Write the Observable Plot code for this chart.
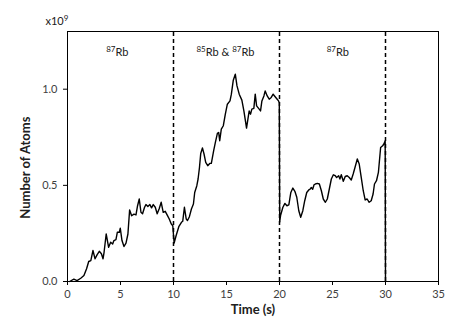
<!DOCTYPE html>
<html><head><meta charset="utf-8">
<script src="https://cdn.jsdelivr.net/npm/d3@7"></script>
<script src="https://cdn.jsdelivr.net/npm/@observablehq/plot@0.6"></script>
<style>body{margin:0;background:#fff}</style>
</head><body><div id="chart"></div>
<script>
const times = [0.2,0.6,0.9,1.25,1.55,1.8,2.0,2.2,2.4,2.6,2.8,3.0,3.2,3.35,3.45,3.65,3.88,4.07,4.26,4.38,4.57,4.7,4.89,4.98,5.14,5.33,5.52,5.7,5.86,6.05,6.27,6.46,6.61,6.77,6.93,7.08,7.27,7.4,7.58,7.77,7.93,8.09,8.28,8.46,8.65,8.84,9.03,9.22,9.41,9.6,9.78,9.93,10.06,10.25,10.5,10.75,10.87,11.03,11.2,11.32,11.5,11.69,11.88,12.0,12.2,12.32,12.45,12.57,12.73,12.88,13.04,13.23,13.42,13.57,13.79,13.95,14.14,14.26,14.36,14.51,14.7,14.89,15.08,15.33,15.46,15.64,15.83,15.99,16.2,16.45,16.64,16.76,16.89,17.02,17.14,17.27,17.39,17.58,17.71,17.84,18.03,18.21,18.34,18.53,18.65,18.84,19.03,19.22,19.4,19.59,19.78,19.91,19.98,20.02,20.1,20.32,20.51,20.7,20.88,21.07,21.26,21.45,21.63,21.82,22.0,22.2,22.38,22.57,22.76,22.89,23.0,23.13,23.26,23.38,23.57,23.76,23.95,24.13,24.33,24.51,24.7,24.89,25.08,25.26,25.39,25.58,25.7,25.83,26.02,26.2,26.39,26.58,26.77,26.95,27.14,27.34,27.52,27.71,27.9,28.08,28.27,28.46,28.65,28.83,28.96,29.15,29.33,29.54,29.73,29.85,29.97,30.0];
const atoms = [0.0,0.012,0.005,0.017,0.031,0.066,0.104,0.109,0.161,0.118,0.14,0.157,0.144,0.118,0.152,0.247,0.178,0.204,0.195,0.213,0.218,0.256,0.256,0.277,0.213,0.182,0.199,0.247,0.372,0.342,0.35,0.346,0.394,0.429,0.36,0.352,0.386,0.4,0.39,0.4,0.383,0.4,0.386,0.352,0.378,0.412,0.36,0.365,0.345,0.325,0.3,0.29,0.2,0.239,0.285,0.308,0.313,0.386,0.325,0.317,0.337,0.377,0.403,0.463,0.498,0.533,0.593,0.666,0.694,0.663,0.619,0.602,0.614,0.614,0.68,0.723,0.77,0.775,0.732,0.792,0.81,0.87,0.922,0.939,0.974,1.047,1.078,1.017,0.974,0.943,0.887,0.844,0.798,0.844,0.887,0.87,0.896,0.9,0.974,0.913,0.9,0.887,0.939,0.965,0.991,0.965,0.948,0.957,0.974,0.961,0.948,0.939,0.93,0.31,0.343,0.386,0.406,0.394,0.398,0.463,0.486,0.469,0.438,0.368,0.334,0.368,0.42,0.463,0.476,0.48,0.489,0.48,0.503,0.507,0.51,0.507,0.472,0.429,0.412,0.429,0.481,0.533,0.555,0.55,0.541,0.55,0.533,0.555,0.521,0.546,0.55,0.541,0.528,0.559,0.597,0.637,0.611,0.541,0.472,0.424,0.429,0.412,0.42,0.455,0.507,0.524,0.567,0.697,0.706,0.715,0.732,0.0];
const xTicks = [0, 5, 10, 15, 20, 25, 30, 35];
const yTicks = [0, 0.5, 1.0];
const switchTimes = [10, 20, 30];
const regionTimes = [4.7, 14.9, 25.5];
const regionLabels = ["87Rb", "85Rb & 87Rb", "87Rb"];
const scaleLabel = "x10^9";
const xLabel = "Time (s)";
const yLabel = "Number of Atoms";

const data = times.map((t, i) => ({t, v: atoms[i]}));
const regions = regionTimes.map((t, i) => ({t, label: regionLabels[i]}));

const chart = Plot.plot({
  width: 452, height: 330,
  marginLeft: 67, marginRight: 14, marginTop: 31, marginBottom: 49,
  style: {fontFamily: "Lato, 'Open Sans', sans-serif", fontSize: "11px", background: "white", color: "#404040"},
  x: {domain: [0, 35]},
  y: {domain: [0, 1.3]},
  marks: [
    Plot.ruleX(switchTimes, {y1: 0, y2: 1.3, stroke: "black", strokeWidth: 1.5, strokeDasharray: "4,3"}),
    Plot.line(data, {x: "t", y: "v", stroke: "black", strokeWidth: 1.4}),
    Plot.frame({stroke: "black", strokeWidth: 1}),
    Plot.axisX({ticks: xTicks, tickSize: 4, tickPadding: 5, stroke: "black", fill: "#404040", label: null, tickFormat: d3.format("d")}),
    Plot.axisY({ticks: yTicks, tickSize: 4, tickPadding: 6, stroke: "black", fill: "#404040", label: null, tickFormat: d3.format(".1f")}),
    Plot.text(regions, {x: "t", y: 1.19, text: "label", fill: "#202020", fontSize: 11}),
    Plot.text([xLabel], {frameAnchor: "bottom", dy: 32, fontWeight: "bold", fontSize: 13, fill: "#202020"}),
    Plot.text([yLabel], {x: -3.92, y: 0.592, rotate: -90, fontWeight: "bold", fontSize: 13, fill: "#202020"}),
    Plot.text([scaleLabel], {frameAnchor: "top-left", dx: -22, dy: -14, textAnchor: "start", fontSize: 11, fill: "#202020"})
  ]
});
document.getElementById("chart").append(chart);

// superscripts
d3.select(chart).selectAll("text").each(function() {
  const s = this.textContent;
  const parts = s.split(/(\^\d+|\d+(?=Rb))/).filter(p => p !== "");
  if (parts.length < 2) return;
  const el = d3.select(this);
  el.text("");
  let up = false;
  for (const p of parts) {
    const sup = /^\^\d+$/.test(p) || /^\d+$/.test(p);
    const ts = el.append("tspan").text(p.replace("^", ""));
    if (sup) {
      ts.attr("font-size", 8);
      if (!up) ts.attr("dy", -4);
      up = true;
    } else {
      if (up) ts.attr("dy", 4);
      up = false;
    }
  }
});
</script>
</body></html>
